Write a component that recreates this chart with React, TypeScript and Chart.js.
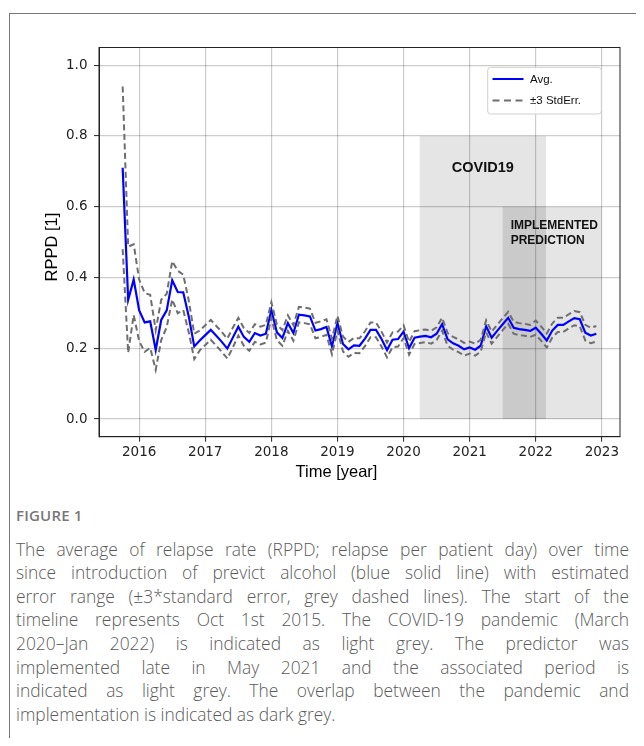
import React, { useEffect, useRef } from 'react';
import { Chart, registerables } from 'chart.js';
Chart.register(...registerables);

// Monthly series, first month = Oct 2015
const startYear = 2015;
const startMonth = 10;

const avg = [
  0.710, 0.337, 0.394, 0.307, 0.273, 0.276, 0.195, 0.280, 0.307, 0.392, 0.359, 0.358,
  0.290, 0.205, 0.222, 0.237, 0.252, 0.235, 0.218, 0.199, 0.230, 0.261, 0.232, 0.218,
  0.243, 0.236, 0.241, 0.308, 0.245, 0.229, 0.271, 0.243, 0.295, 0.293, 0.290, 0.250,
  0.254, 0.260, 0.205, 0.271, 0.212, 0.197, 0.208, 0.207, 0.227, 0.252, 0.252, 0.226,
  0.195, 0.224, 0.226, 0.247, 0.200, 0.230, 0.233, 0.235, 0.231, 0.241, 0.268, 0.225,
  0.214, 0.207, 0.197, 0.202, 0.196, 0.207, 0.262, 0.230, 0.249, 0.268, 0.286, 0.258,
  0.254, 0.252, 0.249, 0.258, 0.241, 0.222, 0.250, 0.266, 0.266, 0.276, 0.285, 0.282,
  0.244, 0.236, 0.241,
];

const upper = [
  0.940, 0.487, 0.494, 0.394, 0.356, 0.351, 0.251, 0.337, 0.354, 0.446, 0.419, 0.408,
  0.335, 0.241, 0.250, 0.265, 0.280, 0.263, 0.246, 0.227, 0.258, 0.286, 0.257, 0.243,
  0.268, 0.261, 0.266, 0.330, 0.267, 0.251, 0.293, 0.265, 0.317, 0.315, 0.312, 0.272,
  0.276, 0.282, 0.227, 0.292, 0.233, 0.218, 0.229, 0.228, 0.248, 0.273, 0.273, 0.247,
  0.216, 0.245, 0.247, 0.265, 0.218, 0.248, 0.251, 0.253, 0.249, 0.259, 0.286, 0.243,
  0.232, 0.225, 0.215, 0.219, 0.213, 0.224, 0.279, 0.247, 0.266, 0.285, 0.303, 0.275,
  0.271, 0.269, 0.266, 0.278, 0.261, 0.242, 0.270, 0.286, 0.286, 0.296, 0.305, 0.302,
  0.266, 0.258, 0.263,
];

const lower = [
  0.480, 0.187, 0.294, 0.220, 0.190, 0.201, 0.139, 0.223, 0.260, 0.338, 0.299, 0.308,
  0.245, 0.169, 0.194, 0.209, 0.224, 0.207, 0.190, 0.171, 0.202, 0.236, 0.207, 0.193,
  0.218, 0.211, 0.216, 0.286, 0.223, 0.207, 0.249, 0.221, 0.273, 0.271, 0.268, 0.228,
  0.232, 0.238, 0.183, 0.250, 0.191, 0.176, 0.187, 0.186, 0.206, 0.231, 0.231, 0.205,
  0.174, 0.203, 0.205, 0.229, 0.182, 0.212, 0.215, 0.217, 0.213, 0.223, 0.250, 0.207,
  0.196, 0.189, 0.179, 0.185, 0.179, 0.190, 0.245, 0.213, 0.232, 0.251, 0.269, 0.241,
  0.237, 0.235, 0.232, 0.238, 0.221, 0.202, 0.230, 0.246, 0.246, 0.256, 0.265, 0.262,
  0.222, 0.214, 0.219,
];

const xTicks = [2016, 2017, 2018, 2019, 2020, 2021, 2022, 2023];
const yTicks = [0.0, 0.2, 0.4, 0.6, 0.8, 1.0];

const covidSpan = [2020.245, 2022.155];
const covidTop = 0.8;
const implSpan = [2021.5, 2023.0];
const implTop = 0.6;

const xRange = [2015.392, 2023.275];
const yRange = [-0.05, 1.05];

const caption = [
  'The average of relapse rate (RPPD; relapse per patient day) over time',
  'since introduction of previct alcohol (blue solid line) with estimated',
  'error range (\u00B13*standard error, grey dashed lines). The start of the',
  'timeline represents Oct 1st 2015. The COVID-19 pandemic (March',
  '2020\u2013Jan 2022) is indicated as light grey. The predictor was',
  'implemented late in May 2021 and the associated period is',
  'indicated as light grey. The overlap between the pandemic and',
  'implementation is indicated as dark grey.',
];

const toPoints = (vals: number[]) =>
  vals.map((v, i) => ({ x: startYear + (startMonth - 1 + i) / 12, y: v }));

const ARIAL = '"Liberation Sans", Arial, sans-serif';

const decorPlugin = {
  id: 'decor',
  beforeDraw(chart: any) {
    const { ctx, chartArea, scales } = chart;
    const xs = scales.x;
    const ys = scales.y;
    ctx.save();
    ctx.beginPath();
    ctx.rect(chartArea.left, chartArea.top, chartArea.right - chartArea.left, chartArea.bottom - chartArea.top);
    ctx.clip();
    const y0 = ys.getPixelForValue(0);
    const cx0 = xs.getPixelForValue(covidSpan[0]);
    const cx1 = xs.getPixelForValue(covidSpan[1]);
    const cy = ys.getPixelForValue(covidTop);
    const ix0 = xs.getPixelForValue(implSpan[0]);
    const ix1 = xs.getPixelForValue(implSpan[1]);
    const iy = ys.getPixelForValue(implTop);
    ctx.fillStyle = '#e5e5e5';
    ctx.fillRect(cx0, cy, cx1 - cx0, y0 - cy);
    ctx.fillRect(ix0, iy, ix1 - ix0, y0 - iy);
    ctx.fillStyle = '#cacaca';
    ctx.fillRect(ix0, iy, cx1 - ix0, y0 - iy);
    ctx.restore();
  },
  afterDraw(chart: any) {
    const { ctx, chartArea, scales } = chart;
    const xs = scales.x;
    const ys = scales.y;
    ctx.save();
    // spines
    ctx.strokeStyle = '#222';
    ctx.lineWidth = 1;
    ctx.strokeRect(chartArea.left, chartArea.top, chartArea.right - chartArea.left, chartArea.bottom - chartArea.top);

    // region labels
    ctx.fillStyle = '#111';
    ctx.font = `bold 14.5px ${ARIAL}`;
    ctx.textAlign = 'center';
    ctx.textBaseline = 'middle';
    const cMid = (xs.getPixelForValue(covidSpan[0]) + xs.getPixelForValue(covidSpan[1])) / 2;
    ctx.fillText('COVID19', cMid, ys.getPixelForValue(0.71));
    ctx.font = `bold 12px ${ARIAL}`;
    ctx.textAlign = 'left';
    const ixl = xs.getPixelForValue(implSpan[0]) + 8;
    ctx.fillText('IMPLEMENTED', ixl, ys.getPixelForValue(0.545));
    ctx.fillText('PREDICTION', ixl, ys.getPixelForValue(0.503));

    // legend
    const lx = 479.7, ly = 59.3, lw = 113.6, lh = 46.7;
    ctx.fillStyle = 'rgba(255,255,255,0.85)';
    ctx.strokeStyle = '#d0d0d0';
    ctx.lineWidth = 1;
    ctx.beginPath();
    (ctx as any).roundRect(lx, ly, lw, lh, 3);
    ctx.fill();
    ctx.stroke();
    ctx.lineWidth = 2;
    ctx.strokeStyle = '#0000ff';
    ctx.beginPath();
    ctx.moveTo(484.5, 71);
    ctx.lineTo(515.5, 71);
    ctx.stroke();
    ctx.strokeStyle = '#6e6e6e';
    ctx.setLineDash([7, 4.5]);
    ctx.beginPath();
    ctx.moveTo(484.5, 92.5);
    ctx.lineTo(515.5, 92.5);
    ctx.stroke();
    ctx.setLineDash([]);
    ctx.fillStyle = '#111';
    ctx.font = `11.5px ${ARIAL}`;
    ctx.textAlign = 'left';
    ctx.textBaseline = 'middle';
    ctx.fillText('Avg.', 522, 72);
    ctx.fillText('\u00B13 StdErr.', 522, 92.7);

    // axis titles
    ctx.fillStyle = '#000';
    ctx.font = `16.5px ${ARIAL}`;
    ctx.textAlign = 'center';
    ctx.textBaseline = 'middle';
    ctx.fillText('Time [year]', 328.5, 464);
    ctx.translate(44, 239);
    ctx.rotate(-Math.PI / 2);
    ctx.fillText('RPPD [1]', 0, 0);
    ctx.restore();
  },
};

export default function App() {
  const ref = useRef<HTMLCanvasElement | null>(null);
  useEffect(() => {
    if (!ref.current) return;
    const chart = new Chart(ref.current, {
      type: 'line',
      data: {
        datasets: [
          {
            label: 'Avg.',
            data: toPoints(avg),
            borderColor: '#0000ff',
            borderWidth: 2.2,
            pointRadius: 0,
            tension: 0,
            order: 2,
          },
          {
            label: '+3 StdErr.',
            data: toPoints(upper),
            borderColor: '#6e6e6e',
            borderWidth: 2,
            borderDash: [6, 3.5],
            pointRadius: 0,
            tension: 0,
            order: 1,
          },
          {
            label: '-3 StdErr.',
            data: toPoints(lower),
            borderColor: '#6e6e6e',
            borderWidth: 2,
            borderDash: [6, 3.5],
            pointRadius: 0,
            tension: 0,
            order: 1,
          },
        ],
      },
      options: {
        animation: false,
        responsive: false,
        devicePixelRatio: 1,
        layout: { padding: { left: 0, top: 39.5, right: 16, bottom: 11.3 } },
        plugins: { legend: { display: false }, tooltip: { enabled: false }, title: { display: false } },
        scales: {
          x: {
            type: 'linear',
            min: xRange[0],
            max: xRange[1],
            afterBuildTicks: (s: any) => {
              s.ticks = xTicks.map((v) => ({ value: v }));
            },
            afterFit: (s: any) => {
              s.height = 40;
            },
            ticks: {
              autoSkip: false,
              maxRotation: 0,
              padding: 3,
              color: '#222',
              font: { family: '"DejaVu Sans"', size: 13.5 },
              callback: (v: any) => String(v),
            },
            grid: { color: 'rgba(0,0,0,0.2)', lineWidth: 1.2, tickLength: 5, tickColor: '#222', tickWidth: 1 },
            border: { display: true, color: '#222', width: 1 },
          },
          y: {
            type: 'linear',
            min: yRange[0],
            max: yRange[1],
            afterBuildTicks: (s: any) => {
              s.ticks = yTicks.map((v) => ({ value: v }));
            },
            afterFit: (s: any) => {
              s.width = 91;
            },
            ticks: {
              autoSkip: false,
              padding: 6.5,
              color: '#222',
              font: { family: '"DejaVu Sans"', size: 13.5 },
              callback: (v: any) => Number(v).toFixed(1),
            },
            grid: { color: 'rgba(0,0,0,0.2)', lineWidth: 1.2, tickLength: 5, tickColor: '#222', tickWidth: 1 },
            border: { display: true, color: '#222', width: 1 },
          },
        },
      },
      plugins: [decorPlugin],
    });
    return () => chart.destroy();
  }, []);

  return (
    <div style={{ position: 'relative', width: 636, height: 730, overflow: 'hidden' }}>
      <div
        style={{
          position: 'absolute',
          left: 1,
          top: 4.5,
          width: 635,
          height: 726,
          borderTop: '1px solid #777',
          borderLeft: '1px solid #777',
          boxSizing: 'border-box',
        }}
      />
      <canvas
        ref={ref}
        width={628}
        height={480}
        style={{ position: 'absolute', left: 0, top: 0, width: 628, height: 480 }}
      />
      <div
        style={{
          position: 'absolute',
          left: 8,
          top: 497,
          width: 613,
          fontFamily: '"Open Sans", sans-serif',
          color: '#5a5a5a',
        }}
      >
        <div style={{ fontSize: 15, lineHeight: '20px', color: '#777', fontWeight: 600, letterSpacing: 0.2 }}>FIGURE 1</div>
        <div style={{ marginTop: 12.7, fontSize: 17.4, lineHeight: '23.6px', fontWeight: 300 }}>
          {caption.map((line, i) => (
            <div
              key={i}
              style={{
                textAlign: i === caption.length - 1 ? 'left' : 'justify',
                textAlignLast: i === caption.length - 1 ? 'left' : 'justify',
              }}
            >
              {line}
            </div>
          ))}
        </div>
      </div>
    </div>
  );
}
